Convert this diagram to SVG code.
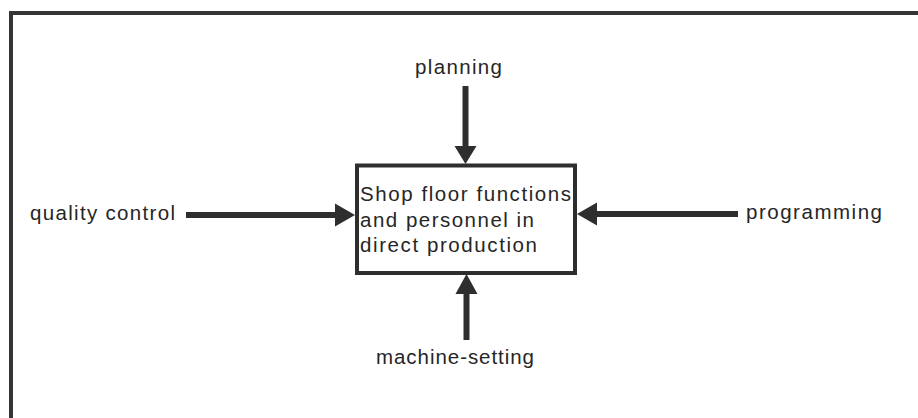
<svg xmlns="http://www.w3.org/2000/svg" width="918" height="418" viewBox="0 0 918 418">
  <style>
    .frame { fill: none; stroke: #343434; stroke-width: 4; }
    .box { fill: #ffffff; stroke: #2e2e2e; stroke-width: 4; }
    .shaft { stroke: #2e2e2e; stroke-width: 6; fill: none; }
    .head { fill: #2e2e2e; stroke: none; }
    .label { font-family: "Liberation Sans", Arial, Helvetica, sans-serif; font-size: 20.5px; fill: #262626; }
  </style>
  <defs>
    <linearGradient id="bottomEdge" x1="0" y1="0" x2="1" y2="0">
      <stop offset="0" stop-color="#c4c4c4"/>
      <stop offset="0.5" stop-color="#707070"/>
      <stop offset="1" stop-color="#555555"/>
    </linearGradient>
  </defs>
  <rect width="918" height="418" fill="#ffffff"/>

  <!-- outer frame -->
  <polyline class="frame" points="11,418 11,13 918,13"/>
  <line x1="320" y1="416.6" x2="918" y2="416.6" stroke="url(#bottomEdge)" stroke-width="2.8"/>

  <!-- connectors -->
  <g id="connectors">
    <!-- planning, from above -->
    <line class="shaft" x1="465.5" y1="86" x2="465.5" y2="148"/>
    <polygon class="head" points="454.5,146 476.5,146 465.5,164"/>
    <!-- machine-setting, from below -->
    <line class="shaft" x1="466.5" y1="340" x2="466.5" y2="292"/>
    <polygon class="head" points="455.5,294 477.5,294 466.5,274"/>
    <!-- quality control, from the left -->
    <line class="shaft" x1="186" y1="215" x2="337" y2="215"/>
    <polygon class="head" points="335,203.5 335,226.5 355,215"/>
    <!-- programming, from the right -->
    <line class="shaft" x1="738" y1="214" x2="594" y2="214"/>
    <polygon class="head" points="597,202.5 597,225.5 577,214"/>
  </g>

  <!-- central process -->
  <g id="shop-floor">
    <rect class="box" x="357" y="165.5" width="218" height="107.5"/>
    <text class="label" x="360" y="201" textLength="211" lengthAdjust="spacing">Shop floor functions</text>
    <text class="label" x="360" y="226.5" textLength="174" lengthAdjust="spacing">and personnel in</text>
    <text class="label" x="360" y="252" textLength="177" lengthAdjust="spacing">direct production</text>
  </g>

  <g id="planning">
    <text class="label" x="415" y="74" textLength="87" lengthAdjust="spacing">planning</text>
  </g>

  <g id="machine-setting">
    <text class="label" x="376" y="364" textLength="158" lengthAdjust="spacing">machine-setting</text>
  </g>

  <g id="quality-control">
    <text class="label" x="30" y="220" textLength="145" lengthAdjust="spacing">quality control</text>
  </g>

  <g id="programming">
    <text class="label" x="746" y="219" textLength="136" lengthAdjust="spacing">programming</text>
  </g>
</svg>
